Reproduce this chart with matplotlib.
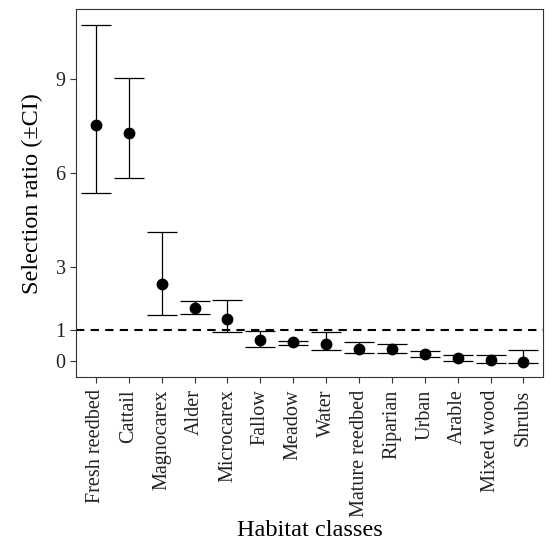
import numpy as np
import matplotlib
matplotlib.use("Agg")
import matplotlib.pyplot as plt

# Habitat classes and selection ratios
habitats = ["Fresh reedbed", "Cattail", "Magnocarex", "Alder", "Microcarex",
            "Fallow", "Meadow", "Water", "Mature reedbed", "Riparian",
            "Urban", "Arable", "Mixed wood", "Shrubs"]
ratio = [7.55, 7.28, 2.47, 1.69, 1.34, 0.67, 0.61, 0.56, 0.38, 0.38,
         0.22, 0.09, 0.04, -0.02]
upper = [10.72, 9.04, 4.13, 1.91, 1.94, 0.98, 0.66, 0.92, 0.61, 0.56,
         0.33, 0.19, 0.20, 0.35]
lower = [5.36, 5.85, 1.49, 1.51, 0.94, 0.46, 0.52, 0.35, 0.26, 0.26,
         0.14, 0.02, -0.06, -0.05]

plt.rcParams["font.family"] = ["Liberation Serif", "DejaVu Serif"]

x = np.arange(len(habitats))
ratio = np.array(ratio)
err = [ratio - np.array(lower), np.array(upper) - ratio]

fig = plt.figure(figsize=(5.6, 5.44), dpi=100)
ax = fig.add_axes([0.136, 0.307, 0.834, 0.676])

ax.axhline(1, color="black", linestyle=(0, (4, 3)), linewidth=1.5, zorder=1)
ax.errorbar(x, ratio, yerr=err, fmt="o", color="black", markersize=7.5,
            elinewidth=0.9, capsize=11, capthick=0.9, zorder=3)

ax.set_xlim(-0.6, len(habitats) - 0.4)
ax.set_ylim(-0.5, 11.23)
ax.set_yticks([0, 1, 3, 6, 9])
ax.set_xticks(x)
ax.set_xticklabels(habitats, rotation=90)
ax.tick_params(axis="both", labelsize=14.5, length=4, width=0.8,
               colors="#222222", color="#333333")
ax.tick_params(axis="x", pad=5)

for s in ax.spines.values():
    s.set_linewidth(0.8)
    s.set_color("#333333")

ax.set_xlabel("Habitat classes", fontsize=17.5, labelpad=2)
ax.set_ylabel("Selection ratio (\u00b1CI)", fontsize=17.5, labelpad=9)

fig.savefig("out.png", dpi=100)
